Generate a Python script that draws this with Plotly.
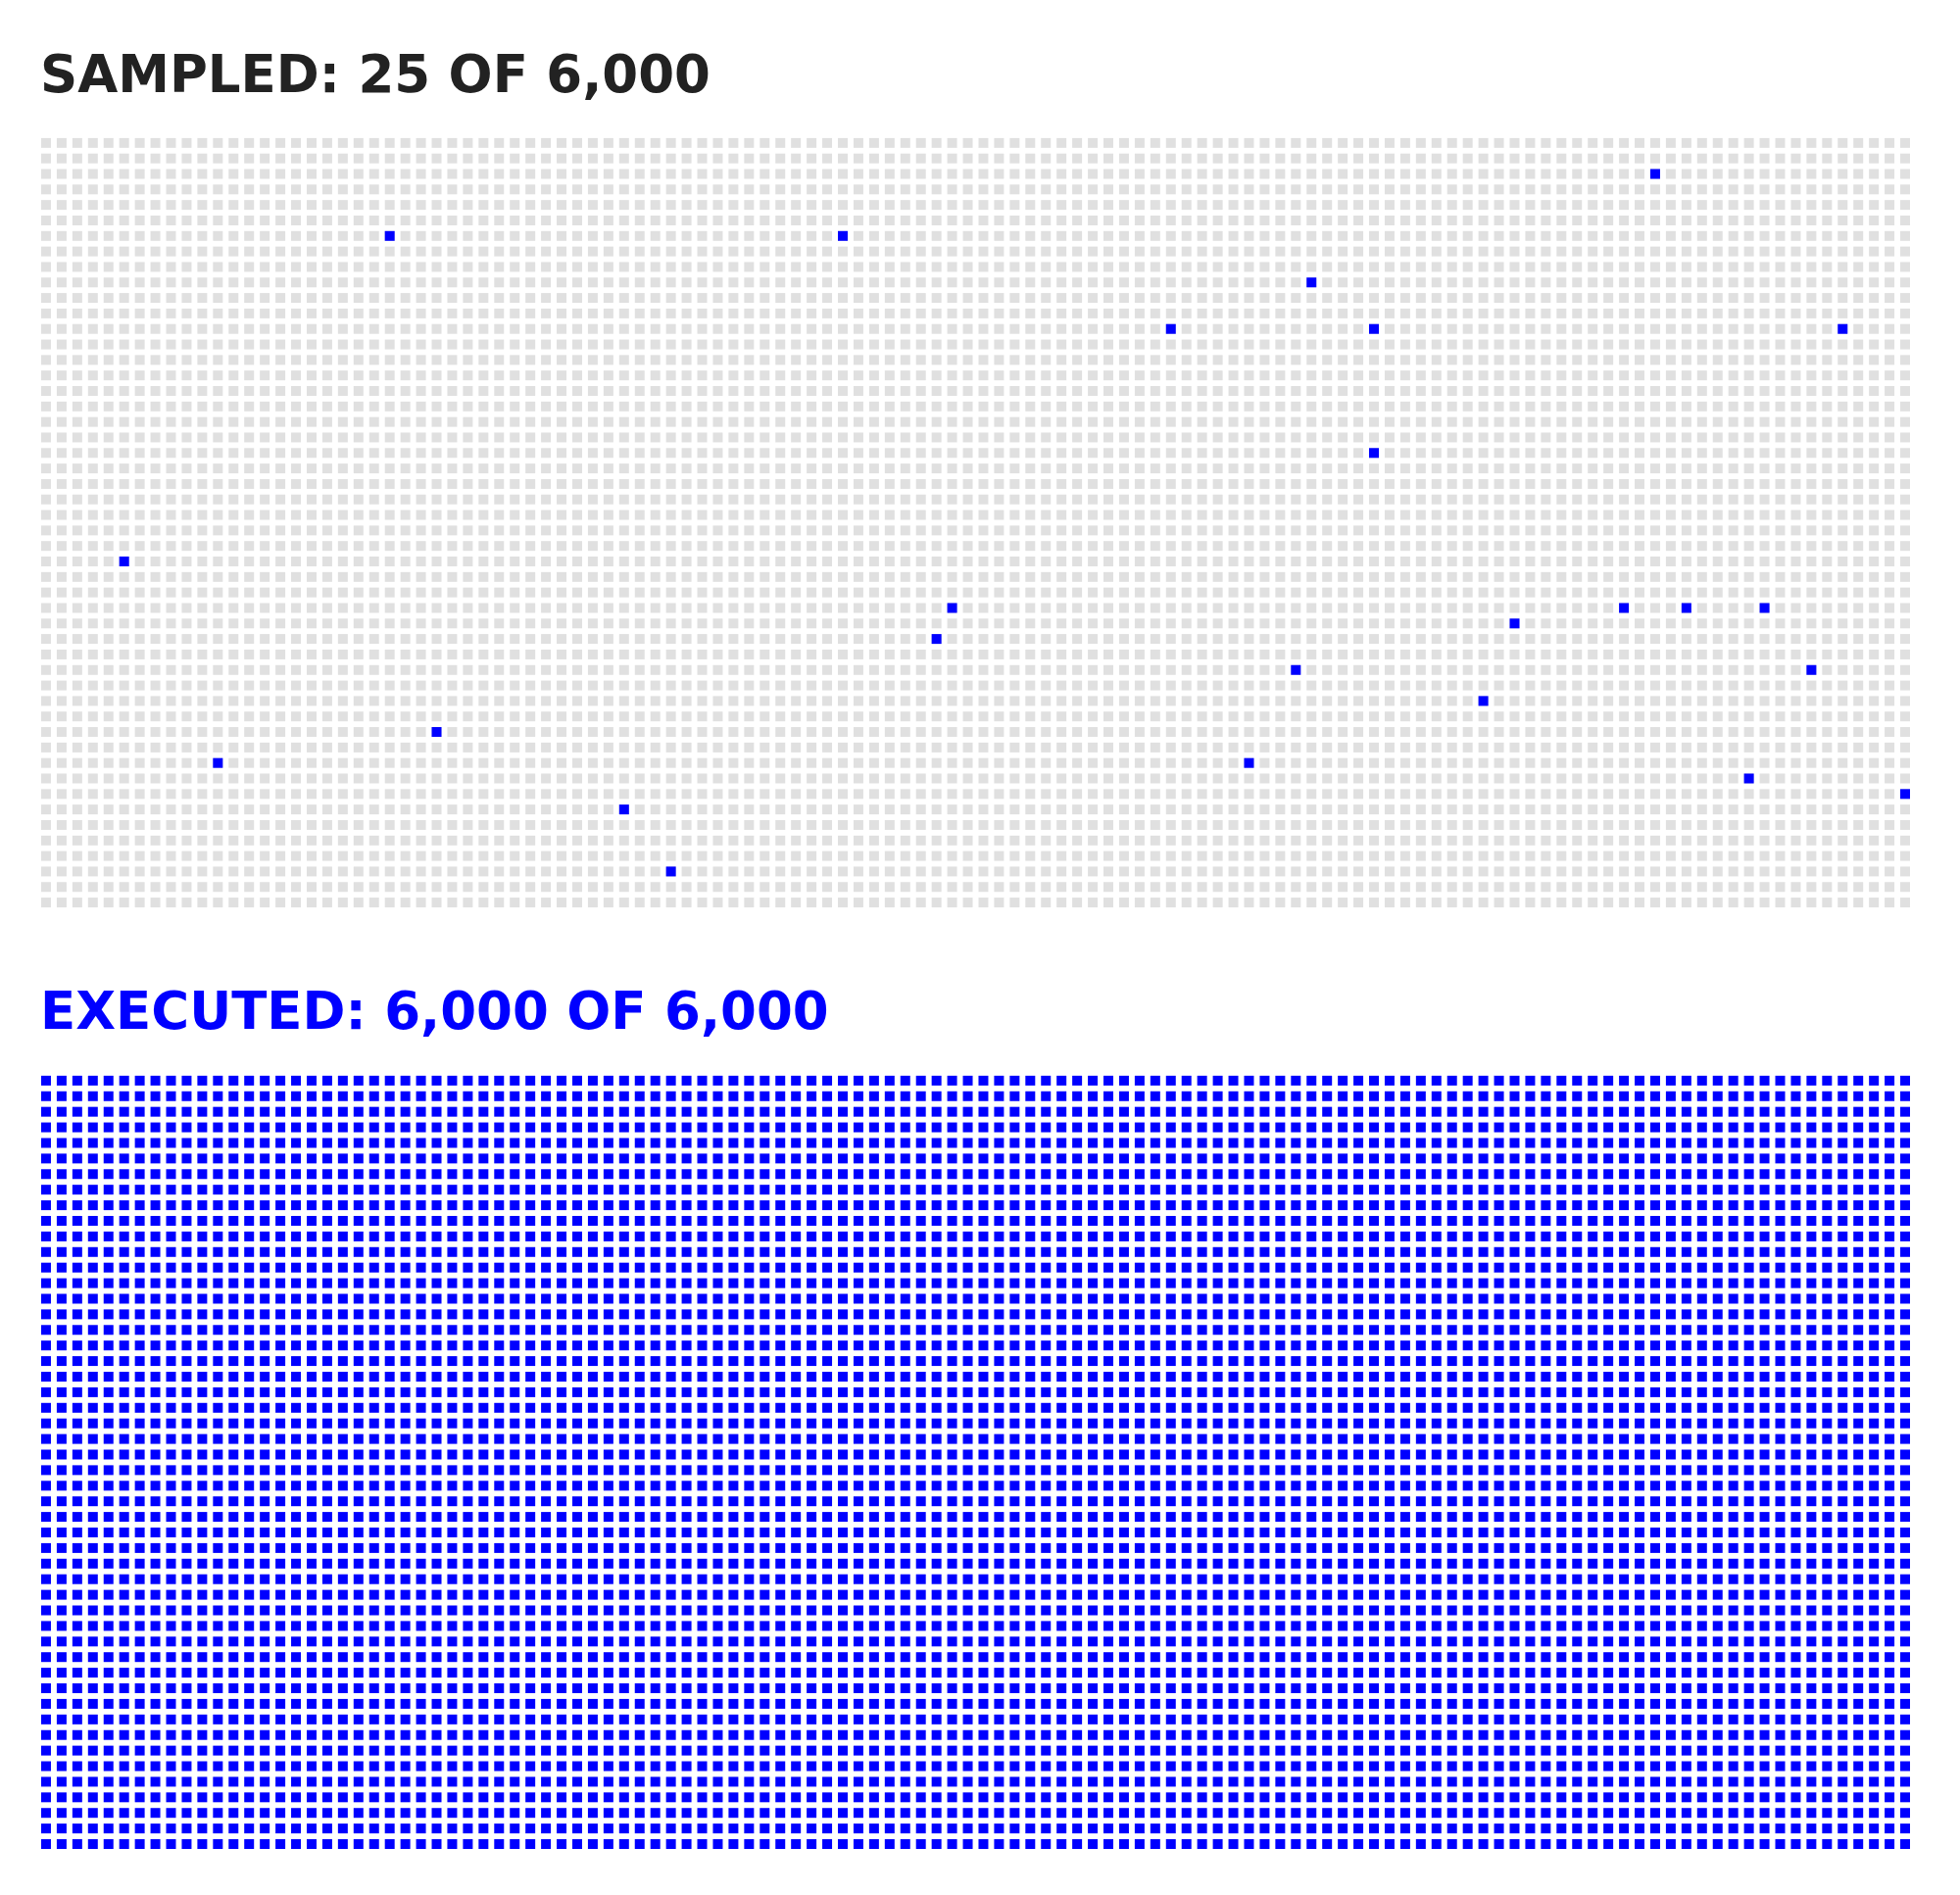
import plotly.graph_objects as go

n_cols = 120
n_rows = 50
total = 6000

# sampled cells (column, row)
sampled_cols = [103, 22, 51, 81, 72, 85, 115, 85, 5, 58, 101, 105, 110, 94, 57,
                80, 113, 92, 25, 11, 77, 109, 119, 37, 40]
sampled_rows = [2, 6, 6, 9, 12, 12, 12, 20, 27, 30, 30, 30, 30, 31, 32,
                34, 34, 36, 38, 40, 40, 41, 42, 43, 47]
executed_count = 6000

titles = ["SAMPLED: 25 OF 6,000", "EXECUTED: 6,000 OF 6,000"]

all_x = [i % n_cols for i in range(total)]
all_y = [i // n_cols for i in range(total)]

fig = go.Figure()
fig.add_trace(go.Scatter(x=all_x, y=all_y, mode="markers", xaxis="x", yaxis="y",
                         marker=dict(symbol="square", size=10, color="#e0e0e0", line=dict(width=0)),
                         hoverinfo="skip"))
fig.add_trace(go.Scatter(x=sampled_cols, y=sampled_rows, mode="markers", xaxis="x", yaxis="y",
                         marker=dict(symbol="square", size=10, color="#0000ff", line=dict(width=0))))
fig.add_trace(go.Scatter(x=all_x[:executed_count], y=all_y[:executed_count], mode="markers",
                         xaxis="x2", yaxis="y2",
                         marker=dict(symbol="square", size=10, color="#0000ff", line=dict(width=0)),
                         hoverinfo="skip"))

ax = dict(range=[-0.5, n_cols - 0.5], visible=False, fixedrange=True)
ay = dict(range=[n_rows - 0.5, -0.5], visible=False, fixedrange=True)
title_font = "DejaVu Sans, Liberation Sans, Arial"
fig.update_layout(
    width=2000, height=1934,
    margin=dict(l=0, r=0, t=0, b=0),
    plot_bgcolor="white", paper_bgcolor="white",
    showlegend=False,
    xaxis=dict(ax, domain=[0.0155, 0.972]),
    yaxis=dict(ay, domain=[0.5238, 0.9328]),
    xaxis2=dict(ax, domain=[0.0155, 0.972], anchor="y2"),
    yaxis2=dict(ay, domain=[0.0269, 0.438], anchor="x2"),
    annotations=[
        dict(text="<b>" + titles[0] + "</b>", x=0.0155, y=0.965, xref="paper", yref="paper",
             xanchor="left", yanchor="middle", showarrow=False,
             font=dict(family=title_font, size=53, color="#222222")),
        dict(text="<b>" + titles[1] + "</b>", x=0.0155, y=0.471, xref="paper", yref="paper",
             xanchor="left", yanchor="middle", showarrow=False,
             font=dict(family=title_font, size=53, color="#0000ff")),
    ],
)

fig.write_html("out.html")
